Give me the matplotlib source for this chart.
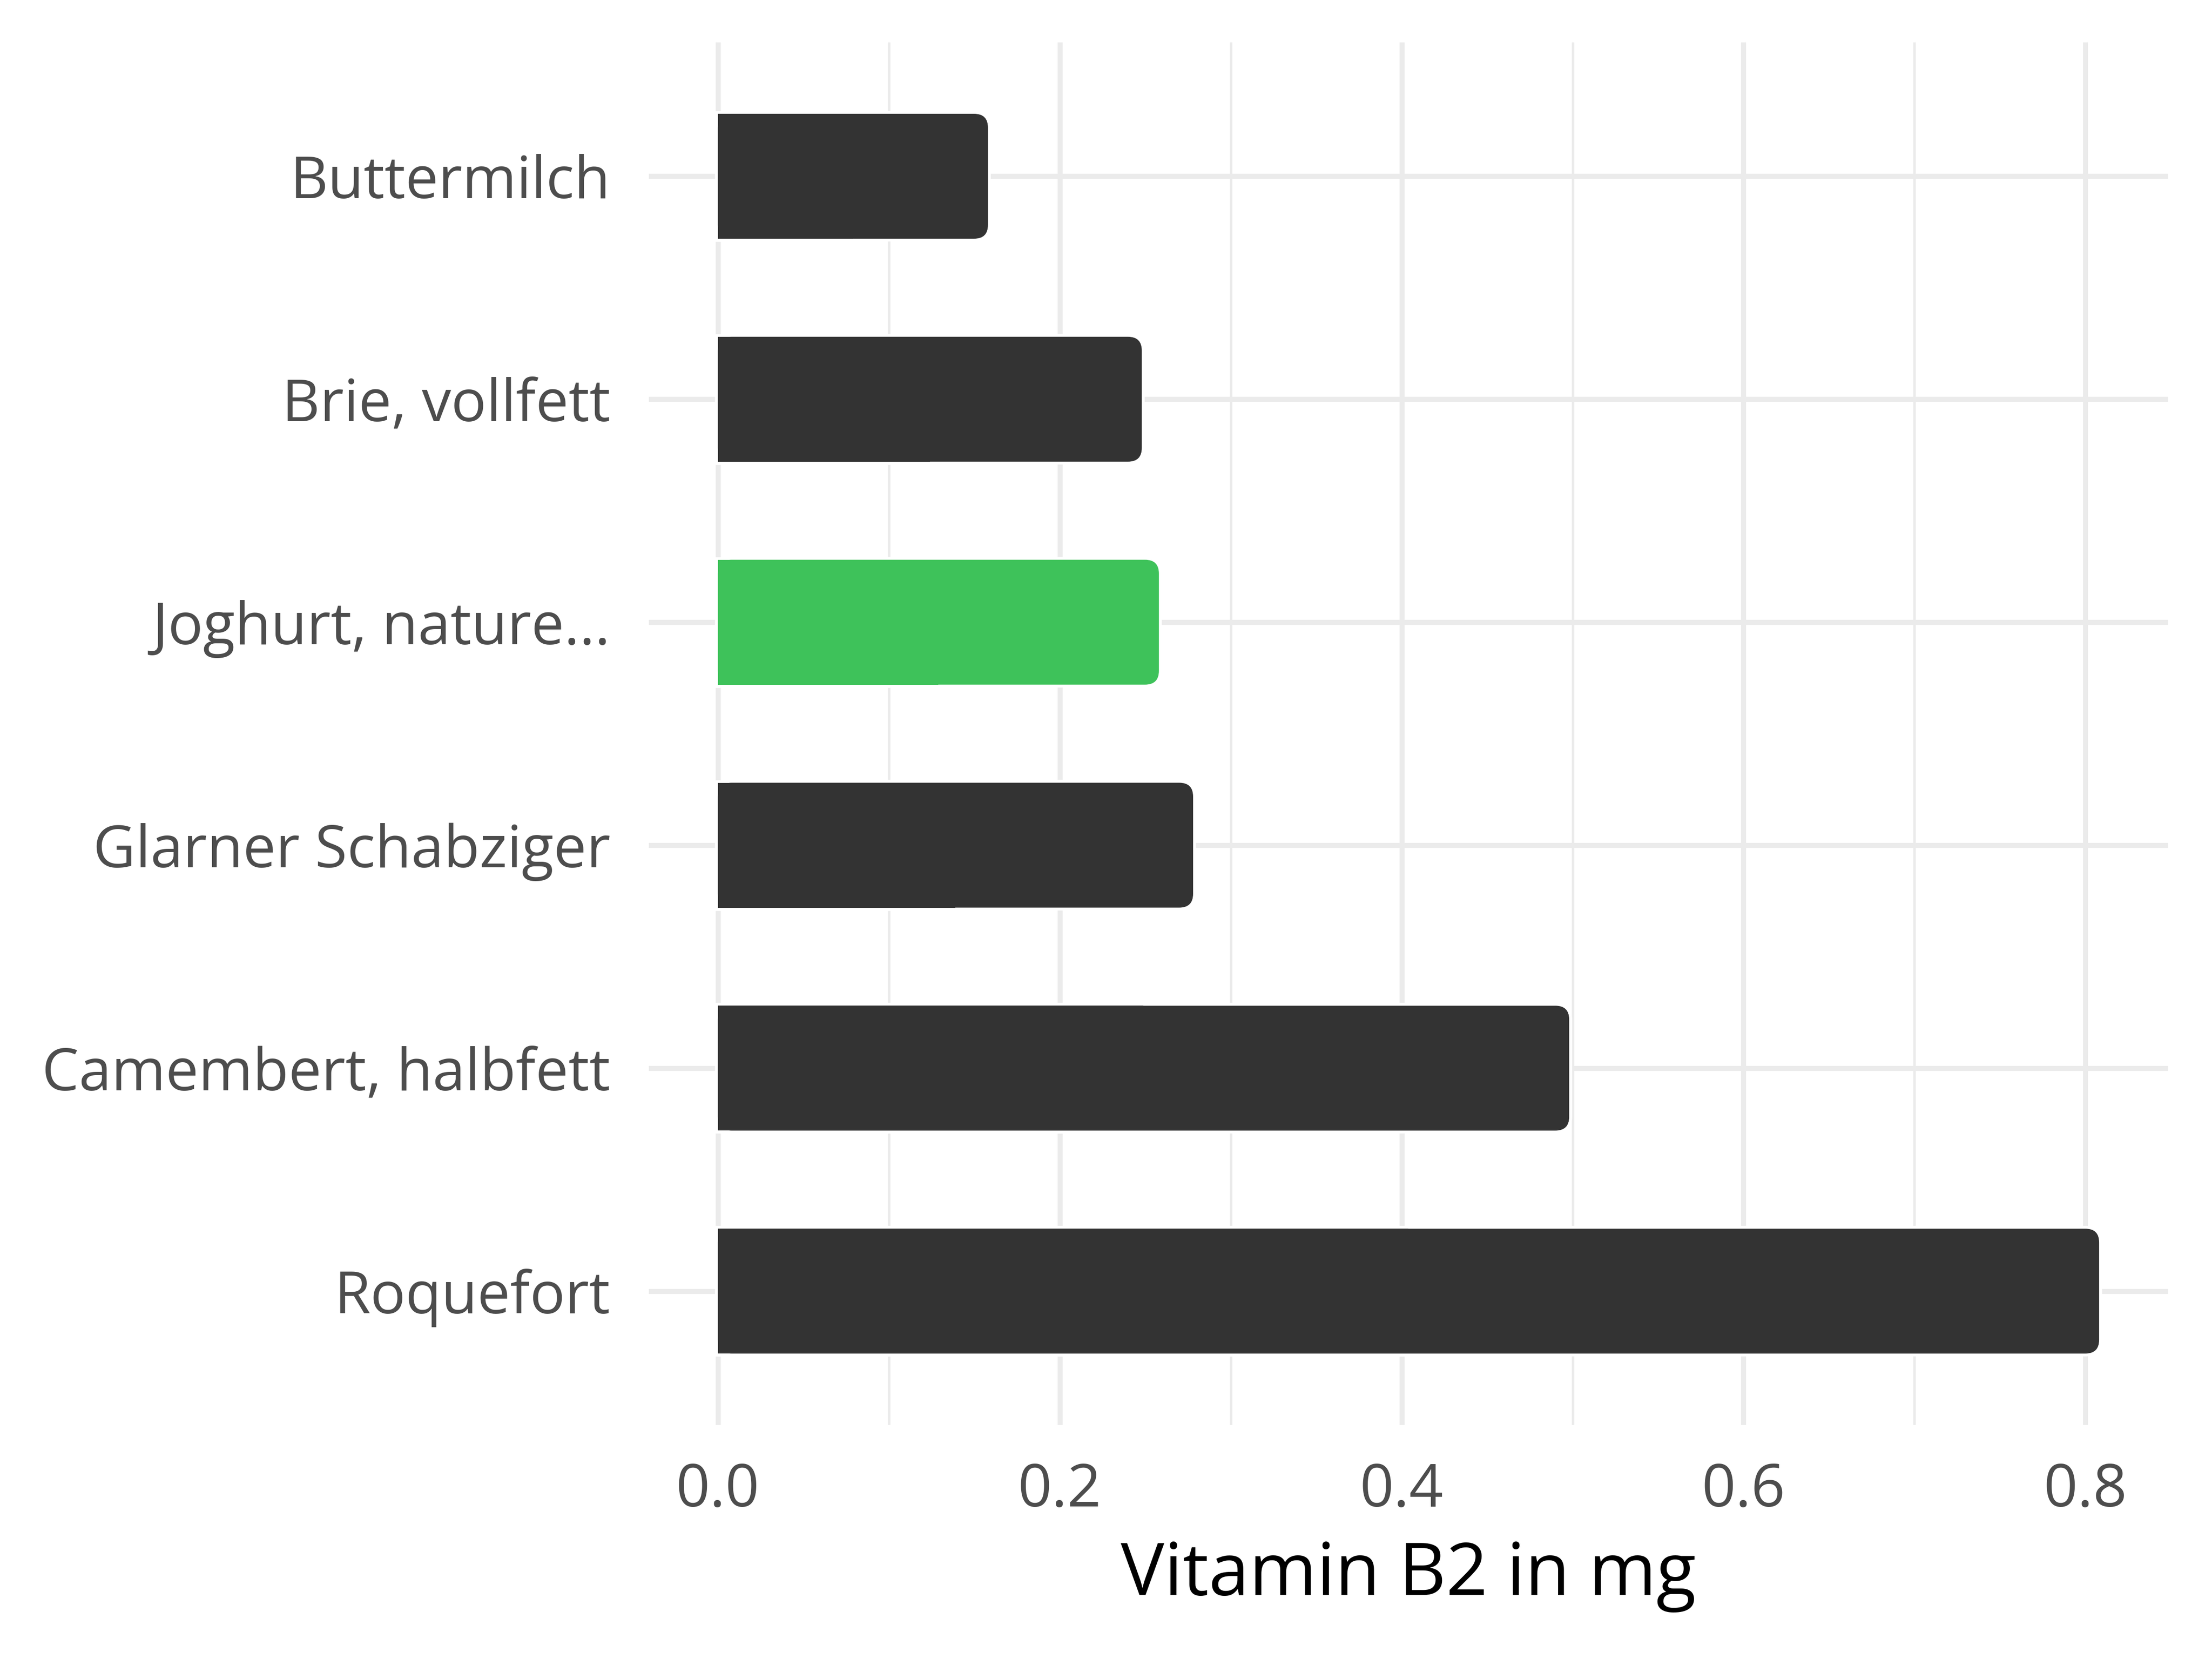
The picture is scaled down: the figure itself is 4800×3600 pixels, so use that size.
import matplotlib
matplotlib.use("Agg")
import matplotlib.pyplot as plt
from matplotlib.patches import Rectangle, FancyBboxPatch
import numpy as np

categories = ["Buttermilch", "Brie, vollfett", "Joghurt, nature...",
              "Glarner Schabziger", "Camembert, halbfett", "Roquefort"]
values = [0.158, 0.248, 0.258, 0.278, 0.498, 0.808]
highlight = [False, False, True, False, False, False]
xticks = [0.0, 0.2, 0.4, 0.6, 0.8]
xticklabels = ["0.0", "0.2", "0.4", "0.6", "0.8"]
xlabel = "Vitamin B2 in mg"

DARK = "#333333"
GREEN = "#3ec25a"
GRID = "#ebebeb"

plt.rcParams['font.family'] = ['Open Sans', 'DejaVu Sans']

fig = plt.figure(figsize=(16, 12), dpi=300)
ax = fig.add_axes([0.2933, 0.1411, 0.6869, 0.8333])

ypos = np.arange(len(categories))
bar_h = 0.56
bars = ax.barh(ypos, values, height=bar_h, color=DARK)

ax.set_xlim(-0.0404, 0.8484)
ax.set_ylim(len(categories) - 0.4, -0.6)

fig.canvas.draw()
p0 = ax.transData.transform((0, 0))
p1 = ax.transData.transform((1, 1))
ppx = abs(p1[0] - p0[0])
ppy = abs(p1[1] - p0[1])
r_px = 30.0
rx = r_px / ppx
aspect = ppx / ppy

for bar, hl in zip(bars, highlight):
    bar.set_visible(False)
    x0, y0, w, h = bar.get_x(), bar.get_y(), bar.get_width(), bar.get_height()
    col = GREEN if hl else DARK
    for fc, ec, lw, z in [("white", "white", 3.0, 2.5), (col, "none", 0, 3)]:
        ax.add_patch(Rectangle((x0, y0), w / 2, h, facecolor=fc, edgecolor=ec,
                               linewidth=lw, zorder=z))
        ax.add_patch(FancyBboxPatch((x0, y0), w, h,
                                    boxstyle=f"round,pad=0,rounding_size={rx}",
                                    mutation_aspect=aspect,
                                    facecolor=fc, edgecolor=ec, linewidth=lw,
                                    zorder=z))

ax.set_yticks(ypos)
ax.set_yticklabels(categories)
ax.set_xticks(xticks)
ax.set_xticklabels(xticklabels)
ax.set_xticks([0.1, 0.3, 0.5, 0.7], minor=True)

ax.grid(True, which="major", color=GRID, linewidth=2.6, zorder=0)
ax.grid(True, which="minor", axis="x", color=GRID, linewidth=1.3, zorder=0)
ax.set_axisbelow(True)
for s in ax.spines.values():
    s.set_visible(False)

ax.tick_params(axis="both", which="both", length=0, colors="#4d4d4d")
ax.tick_params(axis="y", labelsize=30.5, pad=20)
ax.tick_params(axis="x", labelsize=31, pad=19)
ax.set_xlabel(xlabel, fontsize=38, color="black", labelpad=10)

fig.savefig("out.png", dpi=300, facecolor="white")
